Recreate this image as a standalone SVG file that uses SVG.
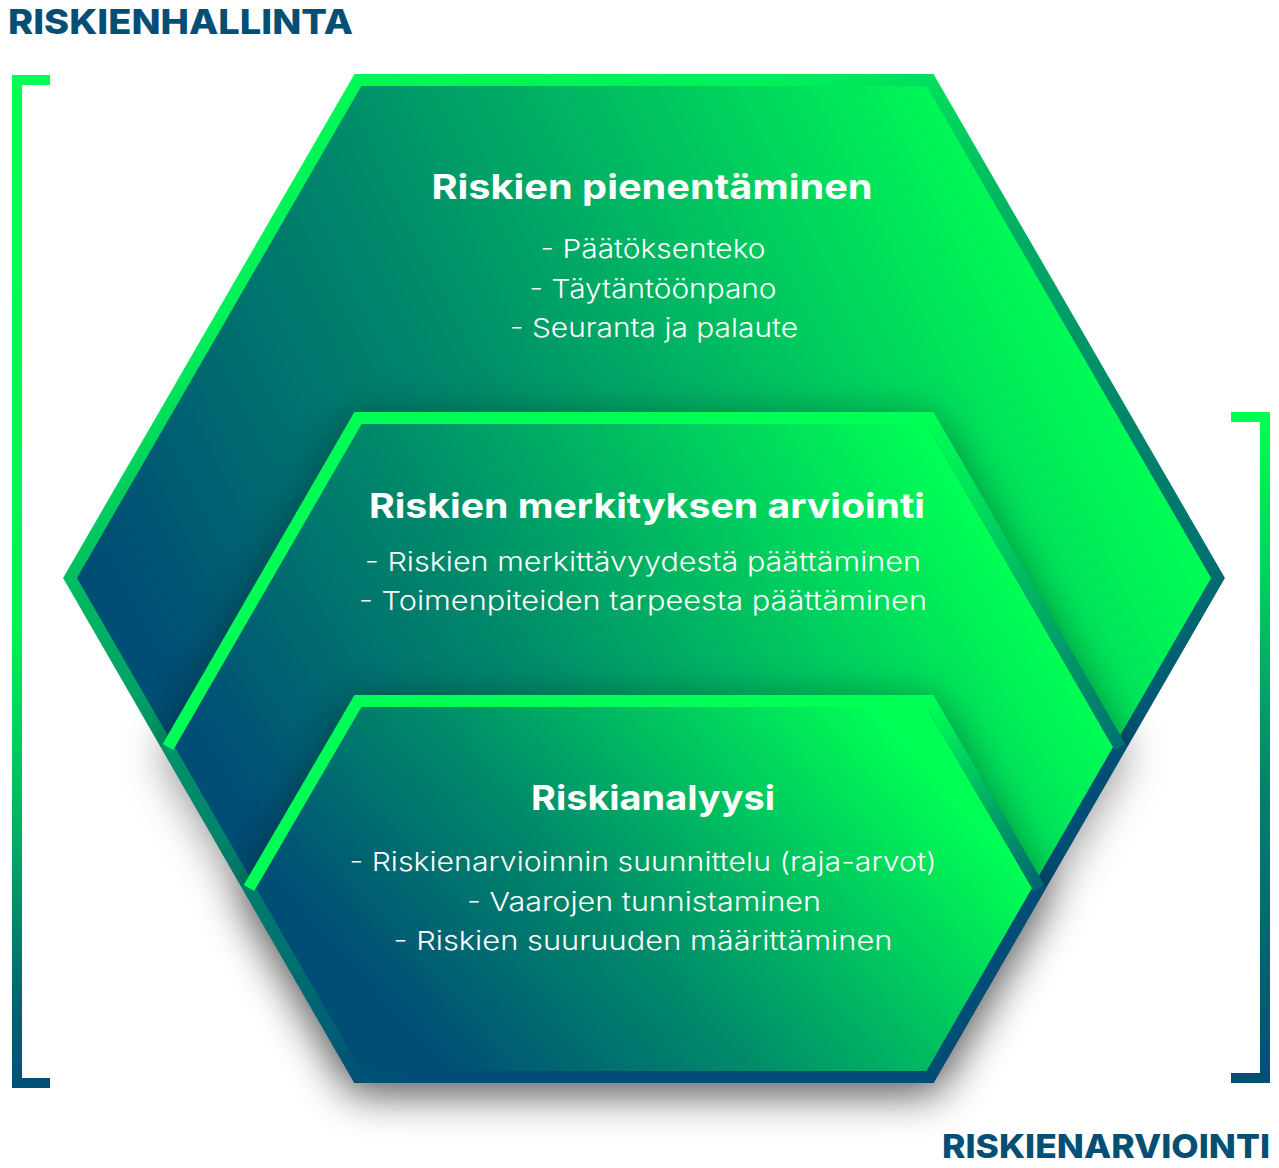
<svg xmlns="http://www.w3.org/2000/svg" width="1279" height="1168" viewBox="0 0 1279 1168">
  <defs>
    <linearGradient id="hexFill" x1="0" y1="1" x2="1.207" y2="0.483">
      <stop offset="0.18" stop-color="#004e75"/>
      <stop offset="0.45" stop-color="#008a6a"/>
      <stop offset="0.85" stop-color="#00ff55"/>
    </linearGradient>
    <linearGradient id="outlineStroke" gradientUnits="userSpaceOnUse" x1="61" y1="74" x2="585" y2="1287">
      <stop offset="0" stop-color="#00ff55"/>
      <stop offset="0.22" stop-color="#00f058"/>
      <stop offset="0.38" stop-color="#00b462"/>
      <stop offset="0.52" stop-color="#008e69"/>
      <stop offset="0.68" stop-color="#00716f"/>
      <stop offset="0.8" stop-color="#004e75"/>
      <stop offset="1" stop-color="#004e75"/>
    </linearGradient>
    <linearGradient id="upperMid" gradientUnits="userSpaceOnUse" x1="930" y1="417" x2="1120" y2="747">
      <stop offset="0" stop-color="#00ff55"/>
      <stop offset="0.15" stop-color="#00ec59"/>
      <stop offset="1" stop-color="#00706f"/>
    </linearGradient>
    <linearGradient id="upperLow" gradientUnits="userSpaceOnUse" x1="930" y1="700" x2="1039" y2="888">
      <stop offset="0" stop-color="#00ff55"/>
      <stop offset="0.15" stop-color="#00ec59"/>
      <stop offset="1" stop-color="#00666f"/>
    </linearGradient>
    <linearGradient id="bracketLeft" gradientUnits="userSpaceOnUse" x1="0" y1="75" x2="0" y2="1088">
      <stop offset="0" stop-color="#00ff55"/>
      <stop offset="0.55" stop-color="#00f058"/>
      <stop offset="0.75" stop-color="#00b062"/>
      <stop offset="0.9" stop-color="#006a70"/>
      <stop offset="1" stop-color="#004e75"/>
    </linearGradient>
    <linearGradient id="bracketRight" gradientUnits="userSpaceOnUse" x1="0" y1="412" x2="0" y2="1083">
      <stop offset="0" stop-color="#00ff55"/>
      <stop offset="0.25" stop-color="#00d05e"/>
      <stop offset="0.55" stop-color="#00836b"/>
      <stop offset="1" stop-color="#004e75"/>
    </linearGradient>
    <filter id="shadow" x="-15%" y="-20%" width="130%" height="150%">
      <feDropShadow dx="0" dy="8" stdDeviation="22" flood-color="#000" flood-opacity="0.42"/>
    </filter>
    <style>
      .fill { fill: url(#hexFill); stroke: none; }
      .outline { fill: none; stroke: url(#outlineStroke); stroke-width: 12; stroke-linejoin: miter; }
      .upper { fill: none; stroke-width: 12; stroke-linejoin: miter; stroke-linecap: butt; }
      .bracket { fill: none; stroke-width: 10; stroke-linejoin: miter; stroke-linecap: butt; }
      .label { font-family: Inter, "Noto Sans", "Liberation Sans", sans-serif; font-weight: 800; fill: #054f74; }
      .title { font-family: Inter, "Noto Sans", "Liberation Sans", sans-serif; font-weight: 700; font-size: 34px; fill: #ffffff; text-anchor: middle; }
      .item { font-family: Inter, "Noto Sans", "Liberation Sans", sans-serif; font-weight: 300; font-size: 26px; fill: #ffffff; text-anchor: middle; }
    </style>
  </defs>

  <rect width="1279" height="1168" fill="#ffffff"/>

  <g id="label-riskienhallinta">
    <text class="label" x="8" y="34" font-size="34" textLength="345" lengthAdjust="spacingAndGlyphs">RISKIENHALLINTA</text>
  </g>
  <g id="bracket-riskienhallinta">
    <path class="bracket" stroke="url(#bracketLeft)" d="M50,80 H17 V1083 H50"/>
  </g>

  <g id="label-riskienarviointi">
    <text class="label" x="942" y="1158" font-size="33" textLength="328" lengthAdjust="spacingAndGlyphs">RISKIENARVIOINTI</text>
  </g>
  <g id="bracket-riskienarviointi">
    <path class="bracket" stroke="url(#bracketRight)" d="M1231,417 H1265 V1078 H1231"/>
  </g>

  <g id="node-riskien-pienentaminen">
    <path class="fill" d="M358,80 H930 L1218,578 L930,1077 H358 L70,578 Z"/>
    <path class="outline" d="M358,80 H930 L1218,578 L930,1077 H358 L70,578 Z"/>
    <text class="title" x="652" y="199" textLength="441" lengthAdjust="spacingAndGlyphs">Riskien pienentäminen</text>
    <text class="item" x="653" y="258" textLength="225" lengthAdjust="spacingAndGlyphs">- Päätöksenteko</text>
    <text class="item" x="653" y="298" textLength="247" lengthAdjust="spacingAndGlyphs">- Täytäntöönpano</text>
    <text class="item" x="654" y="337" textLength="288" lengthAdjust="spacingAndGlyphs">- Seuranta ja palaute</text>
  </g>

  <g id="node-riskien-merkityksen-arviointi">
    <g filter="url(#shadow)">
      <path class="fill" d="M358,418 H930 L1120,747 L930,1077 H358 L168,747 Z"/>
      <path class="outline" d="M358,418 H930 L1120,747 L930,1077 H358 L168,747 Z"/>
      <path class="upper" stroke="url(#upperMid)" d="M168,747 L358,418 H930 L1120,747"/>
    </g>
    <text class="title" x="647" y="518" textLength="556" lengthAdjust="spacingAndGlyphs">Riskien merkityksen arviointi</text>
    <text class="item" x="643" y="571" textLength="556" lengthAdjust="spacingAndGlyphs">- Riskien merkittävyydestä päättäminen</text>
    <text class="item" x="643" y="610" textLength="568" lengthAdjust="spacingAndGlyphs">- Toimenpiteiden tarpeesta päättäminen</text>
  </g>

  <g id="node-riskianalyysi">
    <g filter="url(#shadow)">
      <path class="fill" d="M358,701 H930 L1039,888 L930,1077 H358 L249,888 Z"/>
      <path class="outline" d="M358,701 H930 L1039,888 L930,1077 H358 L249,888 Z"/>
      <path class="upper" stroke="url(#upperLow)" d="M249,888 L358,701 H930 L1039,888"/>
    </g>
    <text class="title" x="653" y="810" textLength="244" lengthAdjust="spacingAndGlyphs">Riskianalyysi</text>
    <text class="item" x="643" y="871" textLength="587" lengthAdjust="spacingAndGlyphs">- Riskienarvioinnin suunnittelu (raja-arvot)</text>
    <text class="item" x="644" y="911" textLength="354" lengthAdjust="spacingAndGlyphs">- Vaarojen tunnistaminen</text>
    <text class="item" x="643" y="950" textLength="499" lengthAdjust="spacingAndGlyphs">- Riskien suuruuden määrittäminen</text>
  </g>
</svg>
